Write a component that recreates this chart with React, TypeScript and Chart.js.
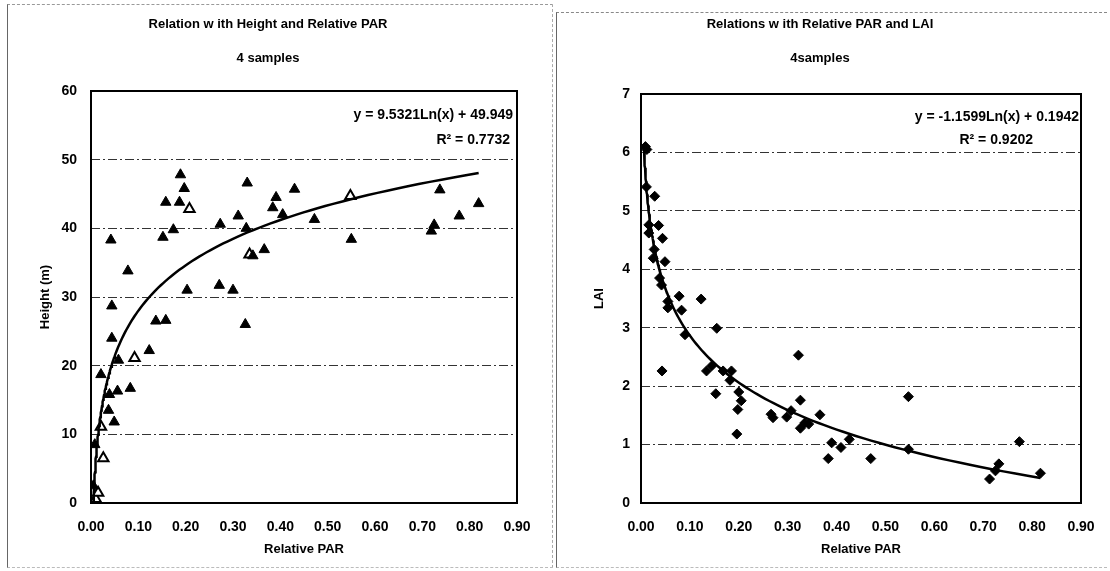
import React, { useEffect, useRef } from "react";
import { Chart, registerables } from "chart.js";

Chart.register(...registerables);

// ---------------- data ----------------
const heightFilledPar = [0.005, 0.008, 0.049, 0.037, 0.039, 0.056, 0.083, 0.021, 0.058, 0.123, 0.044, 0.137, 0.158, 0.326, 0.044, 0.203, 0.271, 0.300, 0.078, 0.342, 0.366, 0.042, 0.152, 0.174, 0.328, 0.273, 0.311, 0.405, 0.384, 0.391, 0.430, 0.472, 0.550, 0.719, 0.725, 0.737, 0.778, 0.819, 0.158, 0.187, 0.189, 0.197, 0.330];
const heightFilledVal = [2.5, 8.5, 11.8, 13.5, 15.8, 16.3, 16.7, 18.7, 20.8, 22.2, 24.0, 26.5, 26.6, 26.0, 28.7, 31.0, 31.7, 31.0, 33.8, 36.0, 36.9, 38.3, 38.7, 39.8, 40.0, 40.6, 41.8, 42.0, 43.0, 44.5, 45.7, 41.3, 38.4, 39.6, 40.5, 45.6, 41.8, 43.6, 43.8, 43.8, 47.8, 45.8, 46.6];
const heightOpenPar = [0.010, 0.015, 0.026, 0.021, 0.092, 0.208, 0.335, 0.548];
const heightOpenVal = [0.6, 1.5, 6.5, 11.1, 21.1, 42.8, 36.2, 44.7];

const laiPar = [0.009, 0.012, 0.011, 0.028, 0.016, 0.036, 0.016, 0.044, 0.027, 0.025, 0.049, 0.038, 0.042, 0.078, 0.123, 0.055, 0.055, 0.083, 0.155, 0.090, 0.043, 0.134, 0.145, 0.168, 0.185, 0.182, 0.153, 0.200, 0.205, 0.198, 0.196, 0.322, 0.266, 0.270, 0.298, 0.307, 0.326, 0.326, 0.335, 0.343, 0.366, 0.390, 0.383, 0.409, 0.426, 0.470, 0.547, 0.547, 0.713, 0.732, 0.725, 0.774, 0.817];
const laiVal = [6.10, 6.05, 5.41, 5.25, 4.76, 4.75, 4.62, 4.53, 4.34, 4.19, 4.13, 3.85, 3.73, 3.54, 3.49, 3.45, 3.34, 3.30, 2.99, 2.88, 2.26, 2.26, 2.35, 2.26, 2.26, 2.10, 1.87, 1.90, 1.75, 1.60, 1.18, 2.53, 1.52, 1.46, 1.47, 1.58, 1.76, 1.28, 1.37, 1.35, 1.51, 1.03, 0.76, 0.95, 1.09, 0.76, 1.82, 0.92, 0.41, 0.67, 0.55, 1.05, 0.51];

const parTicks = [0, 0.1, 0.2, 0.3, 0.4, 0.5, 0.6, 0.7, 0.8, 0.9];
const heightTicks = [0, 10, 20, 30, 40, 50, 60];
const laiTicks = [0, 1, 2, 3, 4, 5, 6, 7];

// logarithmic trendlines y = a ln(x) + b, as printed on the charts
const heightFitA = 9.5321;
const heightFitB = 49.949;
const heightFitRange = [0.0053, 0.819];
const laiFitA = -1.1599;
const laiFitB = 0.1942;
const laiFitRange = [0.0063, 0.817];

const heightEquation = "y = 9.5321Ln(x) + 49.949";
const heightR2 = "R\u00B2 = 0.7732";
const laiEquation = "y = -1.1599Ln(x) + 0.1942";
const laiR2 = "R\u00B2 = 0.9202";

const FONT = "'Liberation Sans', Arial, Helvetica, sans-serif";

function toPoints(xs: number[], ys: number[]) {
  return xs.map((x, i) => ({ x, y: ys[i] }));
}

function trend(a: number, b: number, range: number[]) {
  const pts: { x: number; y: number }[] = [];
  const n = 150;
  const l0 = Math.log(range[0]);
  const l1 = Math.log(range[1]);
  for (let i = 0; i <= n; i++) {
    const x = Math.exp(l0 + ((l1 - l0) * i) / n);
    pts.push({ x, y: a * Math.log(x) + b });
  }
  return pts;
}

const framePlugin = {
  id: "frameAndEquation",
  afterDatasetsDraw(chart: any, _args: any, opts: any) {
    const { ctx, chartArea } = chart;
    ctx.save();
    ctx.strokeStyle = "#000";
    ctx.lineWidth = 2;
    ctx.strokeRect(chartArea.left, chartArea.top, chartArea.right - chartArea.left, chartArea.bottom - chartArea.top);
    ctx.fillStyle = "#000";
    ctx.font = `bold ${opts.size}px ${FONT}`;
    ctx.textBaseline = "middle";
    ctx.textAlign = "right";
    (opts.lines || []).forEach((ln: any) => {
      ctx.fillText(ln.text, chartArea.right - ln.dx, chartArea.top + ln.dy);
    });
    ctx.restore();
  },
};

function buildConfig(p: any) {
  return {
    type: "scatter",
    data: {
      datasets: p.datasets,
    },
    options: {
      animation: false,
      responsive: false,
      devicePixelRatio: 1,
      layout: { padding: p.padding },
      plugins: {
        legend: { display: false },
        tooltip: { enabled: false },
        title: {
          display: true,
          text: p.title,
          color: "#000",
          font: { family: FONT, size: 13, weight: "bold" },
          padding: { top: 17, bottom: 0 },
        },
        subtitle: {
          display: true,
          text: p.subtitle,
          color: "#000",
          font: { family: FONT, size: 13, weight: "bold" },
          padding: { top: 18, bottom: p.subBottom },
        },
        frameAndEquation: { size: 14, lines: p.eqLines },
      },
      scales: {
        x: {
          type: "linear",
          min: 0,
          max: 0.9,
          afterBuildTicks: (s: any) => {
            s.ticks = parTicks.map((v) => ({ value: v }));
          },
          afterFit: (s: any) => {
            s.height = 60;
          },
          ticks: {
            color: "#000",
            font: { family: FONT, size: 14, weight: "bold" },
            padding: 8,
            maxRotation: 0,
            callback: (v: any) => Number(v).toFixed(2),
          },
          grid: { display: false },
          border: { display: false },
          title: {
            display: true,
            text: "Relative PAR",
            color: "#000",
            font: { family: FONT, size: 13, weight: "bold" },
            padding: { top: 0, bottom: 6 },
          },
        },
        y: {
          type: "linear",
          min: 0,
          max: p.yMax,
          afterBuildTicks: (s: any) => {
            s.ticks = p.yTicks.map((v: number) => ({ value: v }));
          },
          afterFit: (s: any) => {
            s.width = p.yWidth;
          },
          ticks: {
            color: "#000",
            font: { family: FONT, size: 14, weight: "bold" },
            padding: p.yTickPad,
          },
          grid: { color: "#333", lineWidth: 1, drawTicks: false },
          border: { display: false, dash: [9, 3, 2, 3] },
          title: {
            display: true,
            text: p.yTitle,
            color: "#000",
            font: { family: FONT, size: 13, weight: "bold" },
            padding: { top: p.yTitlePad, bottom: 0 },
          },
        },
      },
    },
    plugins: [framePlugin],
  };
}

function ChartCanvas({ config, left }: { config: any; left: number }) {
  const ref = useRef<HTMLCanvasElement | null>(null);
  useEffect(() => {
    if (!ref.current) return;
    const chart = new Chart(ref.current, config);
    return () => chart.destroy();
  }, [config]);
  return (
    <canvas
      ref={ref}
      width={555}
      height={571}
      style={{ position: "absolute", left, top: 0, width: 555, height: 571 }}
    />
  );
}

const leftConfig = buildConfig({
  title: "Relation w ith Height and Relative PAR",
  subtitle: "4 samples",
  subBottom: 24.8,
  padding: { left: 19, right: 38, top: 0, bottom: 8 },
  yMax: 60,
  yTicks: heightTicks,
  yWidth: 72,
  yTickPad: 14,
  yTitle: "Height (m)",
  yTitlePad: 19,
  eqLines: [
    { text: heightEquation, dx: 4, dy: 24 },
    { text: heightR2, dx: 7, dy: 49 },
  ],
  datasets: [
    {
      type: "line",
      data: trend(heightFitA, heightFitB, heightFitRange),
      borderColor: "#000",
      borderWidth: 2.5,
      pointRadius: 0,
      fill: false,
      tension: 0,
    },
    {
      data: toPoints(heightFilledPar, heightFilledVal),
      pointStyle: "triangle",
      pointRadius: 6,
      backgroundColor: "#000",
      borderColor: "#000",
      borderWidth: 1,
    },
    {
      data: toPoints(heightOpenPar, heightOpenVal),
      pointStyle: "triangle",
      pointRadius: 6,
      backgroundColor: "#fff",
      borderColor: "#000",
      borderWidth: 2,
    },
  ],
});

const rightConfig = buildConfig({
  title: "Relations w ith Relative PAR and LAI",
  subtitle: "4samples",
  subBottom: 27.8,
  padding: { left: 4, right: 29, top: 0, bottom: 8 },
  yMax: 7,
  yTicks: laiTicks,
  yWidth: 82,
  yTickPad: 11,
  yTitle: "LAI",
  yTitlePad: 33,
  eqLines: [
    { text: laiEquation, dx: 2, dy: 23 },
    { text: laiR2, dx: 48, dy: 46 },
  ],
  datasets: [
    {
      type: "line",
      data: trend(laiFitA, laiFitB, laiFitRange),
      borderColor: "#000",
      borderWidth: 2.5,
      pointRadius: 0,
      fill: false,
      tension: 0,
    },
    {
      data: toPoints(laiPar, laiVal),
      pointStyle: "rectRot",
      pointRadius: 5,
      backgroundColor: "#000",
      borderColor: "#000",
      borderWidth: 1,
    },
  ],
});

export default function App() {
  return (
    <div style={{ position: "fixed", left: 0, top: 0, width: 1110, height: 571, background: "#fff", overflow: "hidden" }}>
      <div style={{ position: "absolute", left: 7, top: 4, width: 544, height: 562, borderLeft: "1px solid #666", borderTop: "1px dashed #999", borderRight: "1px dashed #aaa", borderBottom: "1px dashed #bbb" }} />
      <div style={{ position: "absolute", left: 556, top: 12, width: 550, height: 554, borderLeft: "1px solid #666", borderTop: "1px dashed #888", borderBottom: "1px dashed #bbb" }} />
      <ChartCanvas config={leftConfig} left={0} />
      <ChartCanvas config={rightConfig} left={555} />
    </div>
  );
}
